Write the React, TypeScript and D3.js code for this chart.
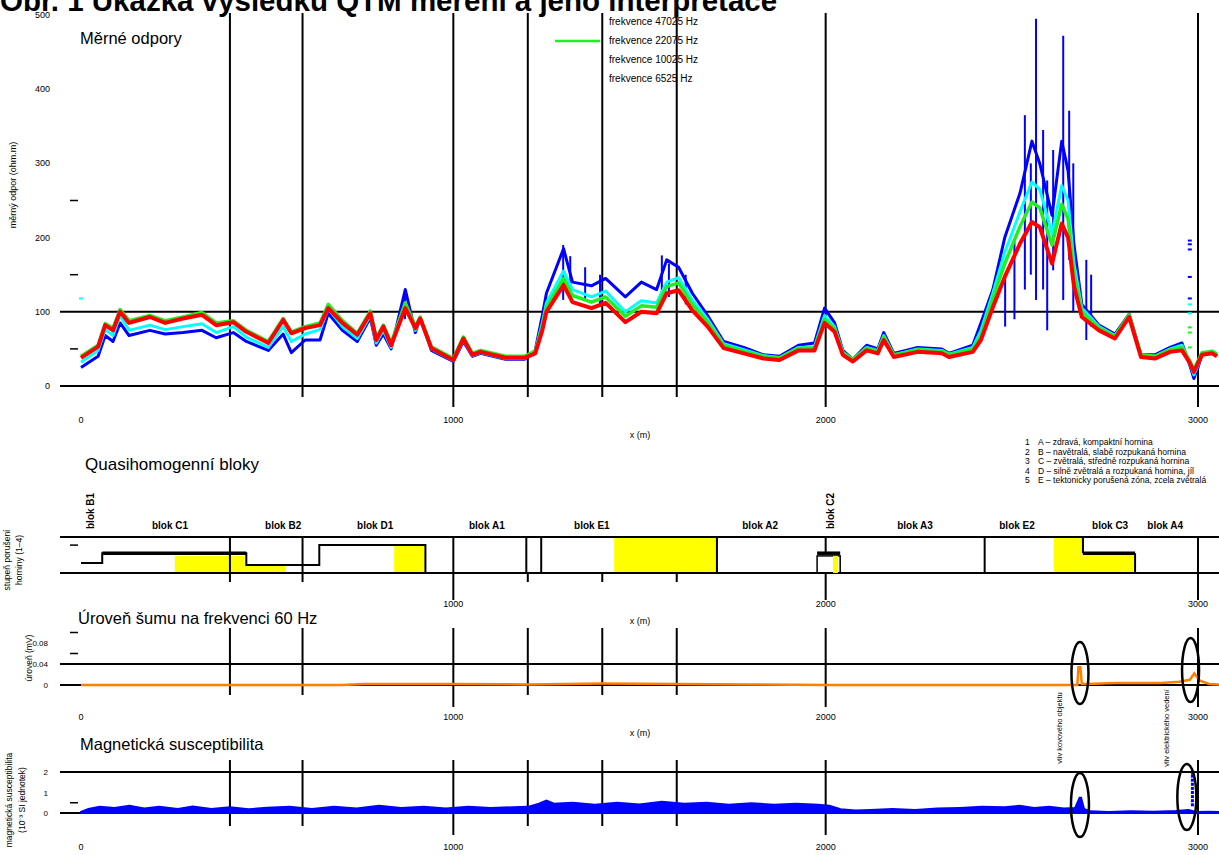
import React, { useRef, useEffect } from "react";
import * as d3 from "d3";

const title = "Obr. 1 Ukázka výsledku QTM měření a jeho interpretace";

// měrné odpory – staničení (m) a hodnoty (ohm.m) pro čtyři frekvence
const distance = [0, 46, 65, 86, 105, 129, 185, 226, 274, 325, 363, 409, 444, 503, 543, 565, 602, 642, 664, 702, 742, 777, 793, 812, 833, 871, 898, 911, 941, 1000, 1027, 1051, 1073, 1140, 1191, 1220, 1239, 1250, 1296, 1320, 1371, 1409, 1462, 1505, 1546, 1573, 1605, 1642, 1683, 1726, 1780, 1833, 1876, 1927, 1970, 1997, 2024, 2046, 2073, 2110, 2140, 2156, 2183, 2247, 2312, 2331, 2395, 2417, 2449, 2481, 2522, 2554, 2575, 2608, 2634, 2651, 2667, 2688, 2734, 2777, 2815, 2847, 2884, 2925, 2957, 2978, 2989, 3000, 3011, 3038, 3051];
const rhoRed = [38, 53, 82, 75, 100, 85, 93, 85, 91, 96, 82, 86, 73, 58, 89, 71, 78, 82, 105, 85, 69, 98, 62, 80, 55, 105, 78, 91, 51, 35, 64, 42, 46, 38, 38, 44, 75, 100, 136, 113, 105, 112, 86, 100, 98, 125, 129, 102, 80, 51, 44, 37, 35, 48, 48, 85, 73, 42, 33, 48, 44, 62, 39, 46, 44, 39, 46, 62, 106, 147, 192, 221, 214, 165, 219, 200, 134, 93, 75, 64, 93, 39, 37, 46, 48, 31, 19, 31, 42, 44, 40];
const rhoGreen = [40, 55, 84, 78, 103, 88, 95, 88, 93, 99, 85, 88, 75, 60, 91, 73, 80, 85, 110, 88, 71, 101, 65, 82, 58, 112, 80, 93, 53, 37, 66, 44, 48, 40, 40, 47, 80, 106, 145, 122, 113, 120, 94, 108, 106, 134, 139, 110, 86, 55, 47, 40, 38, 51, 51, 90, 77, 45, 36, 51, 47, 66, 42, 49, 47, 42, 50, 68, 118, 165, 215, 248, 240, 190, 245, 225, 150, 100, 78, 67, 96, 42, 40, 49, 52, 34, 22, 34, 45, 47, 43];
const rhoCyan = [32, 48, 76, 68, 95, 75, 82, 76, 80, 84, 72, 80, 66, 52, 80, 60, 70, 76, 104, 80, 64, 95, 58, 75, 52, 110, 75, 90, 50, 34, 62, 41, 45, 37, 37, 46, 85, 112, 155, 130, 120, 128, 100, 115, 112, 140, 146, 116, 90, 57, 49, 41, 38, 52, 53, 95, 80, 46, 35, 52, 48, 68, 42, 50, 48, 43, 52, 75, 125, 180, 235, 275, 265, 205, 270, 250, 165, 105, 80, 68, 95, 41, 40, 50, 55, 30, 15, 28, 44, 46, 42];
const rhoBlue = [25, 40, 68, 60, 85, 68, 75, 70, 72, 75, 65, 72, 60, 48, 70, 45, 62, 62, 98, 75, 60, 92, 55, 70, 50, 130, 72, 92, 48, 33, 60, 40, 44, 36, 36, 48, 95, 125, 185, 140, 135, 145, 120, 140, 130, 170, 160, 125, 95, 60, 52, 42, 40, 55, 58, 105, 85, 48, 36, 55, 50, 72, 44, 52, 50, 44, 55, 85, 130, 200, 260, 330, 300, 230, 330, 290, 190, 110, 82, 70, 97, 42, 42, 52, 58, 28, 10, 25, 43, 45, 41];

// šumové špičky modré řady: staničení, min, max
const spikeD = [870, 1295, 1314, 1354, 1394, 1560, 1579, 1624, 2482, 2507, 2535, 2551, 2565, 2584, 2595, 2611, 2638, 2654, 2665, 2700, 2713];
const spikeLo = [90, 116, 120, 115, 110, 120, 120, 110, 80, 90, 130, 150, 116, 130, 75, 156, 116, 170, 100, 62, 80];
const spikeHi = [130, 190, 175, 160, 150, 176, 165, 150, 145, 196, 365, 300, 495, 345, 277, 318, 472, 371, 300, 170, 150];

// osamocené body
const outlierD = [0, 2978, 2978, 2978, 2978, 2978, 2978, 2978, 2978, 2978, 2978];
const outlierV = [118, 196, 191, 184, 147, 118, 110, 98, 79, 72, 52];
const outlierS = ["cyan", "blue", "blue", "blue", "blue", "blue", "cyan", "cyan", "green", "green", "green"];

const legendLabels = ["frekvence 47025 Hz", "frekvence 22075 Hz", "frekvence 10025 Hz", "frekvence 6525 Hz"];
const legendColors = ["none", "#22ee22", "none", "none"];

const rhoTicks = [0, 100, 200, 300, 400, 500];
const rhoMinor = [50, 150, 250];
const xTicks = [0, 1000, 2000, 3000];
const gridX = [400, 595, 1000, 1200, 1400, 1600, 2000, 3000];

// quasihomogenní bloky
const blockNames = ["blok B1", "blok C1", "blok B2", "blok D1", "blok A1", "blok  E1", "blok A2", "blok C2", "blok A3", "blok E2", "blok C3", "blok A4"];
const blockLabelAt = [24, 239, 543, 790, 1090, 1372, 1824, 2012, 2240, 2514, 2764, 2912];
const blockRotated = [true, false, false, false, false, false, false, true, false, false, false, false];
const blockBounds = [400, 595, 1000, 1196, 1236, 1708, 2427, 3000];
const stepD = [0, 57, 444, 640, 925];
const stepLevel = [1.1, 2.2, 0.9, 3.1, 0];
const yellowStart = [252, 440, 841, 1432, 2020, 2613, 2691];
const yellowEnd = [440, 548, 921, 1708, 2033, 2691, 2831];
const yellowTop = [1.9, 0.9, 3.1, 4, 1.9, 4, 2.2];
const blockLegend = [
  "A – zdravá, kompaktní hornina",
  "B – navětralá, slabě rozpukaná hornina",
  "C – zvětralá, středně rozpukaná hornina",
  "D – silně zvětralá a rozpukaná hornina, jíl",
  "E – tektonicky porušená zóna, zcela zvětralá",
];

// úroveň šumu na 60 Hz
const noiseD = [0, 700, 760, 1000, 1200, 1400, 1600, 1800, 2000, 2600, 2676, 2679, 2684, 2688, 2700, 2780, 2900, 2950, 2978, 2990, 3005, 3030, 3060];
const noiseV = [0, 0, 0.002, 0.002, 0.001, 0.003, 0.002, 0.001, 0, 0, 0, 0.034, 0.034, 0.002, 0.002, 0.004, 0.004, 0.006, 0.01, 0.022, 0.008, 0.002, 0.001];

// magnetická susceptibilita
const magD = [0, 20, 50, 90, 130, 170, 210, 260, 300, 350, 400, 450, 500, 560, 620, 680, 740, 800, 860, 920, 980, 1040, 1100, 1160, 1200, 1230, 1250, 1270, 1320, 1380, 1440, 1500, 1560, 1620, 1680, 1740, 1800, 1860, 1920, 1980, 2010, 2040, 2080, 2120, 2180, 2240, 2300, 2360, 2420, 2480, 2520, 2560, 2600, 2640, 2670, 2682, 2686, 2694, 2710, 2760, 2820, 2880, 2940, 2975, 2995, 3030, 3060];
const magV = [0.05, 0.2, 0.3, 0.25, 0.35, 0.22, 0.3, 0.2, 0.32, 0.2, 0.28, 0.18, 0.26, 0.3, 0.2, 0.3, 0.22, 0.35, 0.25, 0.3, 0.22, 0.3, 0.25, 0.28, 0.3, 0.45, 0.6, 0.45, 0.5, 0.4, 0.5, 0.42, 0.55, 0.45, 0.5, 0.4, 0.48, 0.4, 0.45, 0.4, 0.35, 0.18, 0.12, 0.15, 0.2, 0.15, 0.22, 0.25, 0.3, 0.28, 0.35, 0.25, 0.3, 0.22, 0.25, 0.75, 0.75, 0.2, 0.08, 0.05, 0.08, 0.06, 0.1, 0.15, 0.05, 0.06, 0.05];
const magDotsD = [2985, 2985, 2985, 2985, 2985, 2985, 2985, 2985, 2985];
const magDotsV = [1.95, 1.8, 1.6, 1.4, 1.2, 1.0, 0.8, 0.6, 0.4];

const anomalyLabels = ["vliv kovového objektu", "vliv elektrického vedení"];

const FONT = "'Liberation Sans', Arial, sans-serif";

export default function App() {
  const svgRef = useRef<SVGSVGElement>(null);

  useEffect(() => {
    const width = 1219;
    const height = 855;
    d3.select(svgRef.current).selectAll("*").remove();
    const svg = d3.select(svgRef.current).attr("width", width).attr("height", height).style("font-family", FONT);
    svg.append("rect").attr("width", width).attr("height", height).attr("fill", "#fff");

    const x = d3.scaleLinear().domain([0, 3000]).range([81, 1198]);
    const xLeft = 60;
    const xRight = width;

    const hLine = (y: number) =>
      svg.append("line").attr("x1", xLeft).attr("x2", xRight).attr("y1", y).attr("y2", y)
        .attr("stroke", "#000").attr("stroke-width", 2);
    const vLine = (xx: number, y1: number, y2: number, w = 2) =>
      svg.append("line").attr("x1", xx).attr("x2", xx).attr("y1", y1).attr("y2", y2)
        .attr("stroke", "#000").attr("stroke-width", w);
    const text = (s: string, xx: number, yy: number, size: number, anchor = "start", weight = "normal") =>
      svg.append("text").attr("x", xx).attr("y", yy).attr("font-size", size).attr("text-anchor", anchor)
        .attr("font-weight", weight).attr("fill", "#000").text(s);
    const vText = (s: string, xx: number, yy: number, size: number, anchor = "middle", weight = "normal") =>
      svg.append("text").attr("transform", `translate(${xx},${yy}) rotate(-90)`).attr("font-size", size)
        .attr("text-anchor", anchor).attr("font-weight", weight).attr("fill", "#000").text(s);
    const xAxisLabels = (yy: number, yTitle: number | null, showZero: boolean) => {
      xTicks.forEach((t) => {
        if (t === 0 && !showZero) return;
        text(String(t), x(t), yy, 9, "middle");
      });
      if (yTitle !== null) text("x (m)", 640, yTitle, 9, "middle");
    };
    const gridLines = (top: number, bottom: number, bottomLong: number) => {
      gridX.forEach((g) => vLine(x(g), top, g % 1000 === 0 ? bottomLong : bottom));
    };

    // ---------- panel 1: měrné odpory ----------
    const yRho = d3.scaleLinear().domain([0, 500]).range([386, 15]);
    rhoTicks.forEach((t) => text(String(t), 50, yRho(t) + 3, 9, "end"));
    rhoMinor.forEach((t) =>
      svg.append("line").attr("x1", 70).attr("x2", 78).attr("y1", yRho(t)).attr("y2", yRho(t))
        .attr("stroke", "#000").attr("stroke-width", 1.5));
    vText("měrný odpor (ohm.m)", 16, 185, 9);
    text("Měrné odpory", 80, 44, 16.5);
    gridLines(13, 397, 407);
    hLine(yRho(0));
    hLine(yRho(100));

    const lineRho = (vals: number[]) =>
      d3.line<number>().x((_, i) => x(distance[i])).y((v) => yRho(v))(vals);

    spikeD.forEach((d, i) =>
      svg.append("line").attr("x1", x(d)).attr("x2", x(d)).attr("y1", yRho(spikeLo[i])).attr("y2", yRho(spikeHi[i]))
        .attr("stroke", "#0000ff").attr("stroke-width", 2));
    const series = [
      { vals: rhoBlue, color: "#0000ff", w: 3 },
      { vals: rhoCyan, color: "#00ffff", w: 3 },
      { vals: rhoGreen, color: "#22ee22", w: 3.5 },
      { vals: rhoRed, color: "#ff0000", w: 4 },
    ];
    series.forEach((s) =>
      svg.append("path").attr("d", lineRho(s.vals)).attr("fill", "none").attr("stroke", s.color)
        .attr("stroke-width", s.w).attr("stroke-linejoin", "round"));
    const colorOf: Record<string, string> = { blue: "#0000ff", cyan: "#00ffff", green: "#22ee22", red: "#ff0000" };
    outlierD.forEach((d, i) =>
      svg.append("line").attr("x1", x(d) - 2).attr("x2", x(d) + 2).attr("y1", yRho(outlierV[i])).attr("y2", yRho(outlierV[i]))
        .attr("stroke", colorOf[outlierS[i]]).attr("stroke-width", 2));

    // legend
    legendLabels.forEach((l, i) => {
      const ly = 25 + i * 19;
      if (legendColors[i] !== "none")
        svg.append("line").attr("x1", 555).attr("x2", 600).attr("y1", ly - 3).attr("y2", ly - 3)
          .attr("stroke", legendColors[i]).attr("stroke-width", 2.5);
      text(l, 609, ly, 10);
    });
    xAxisLabels(423, 438, true);

    // ---------- panel 2: quasihomogenní bloky ----------
    const yBlk = d3.scaleLinear().domain([0, 4]).range([573, 537]);
    text("Quasihomogenní bloky", 85, 470, 17);
    vText("stupeň porušení", 10, 560, 8.5);
    vText("horniny (1–4)", 22, 560, 8.5);
    svg.append("line").attr("x1", 70).attr("x2", 78).attr("y1", yBlk(3.1)).attr("y2", yBlk(3.1))
      .attr("stroke", "#000").attr("stroke-width", 1.5);
    blockLegend.forEach((l, i) => {
      text(String(i + 1), 1025, 445 + i * 9.5, 8.5);
      text(l, 1038, 445 + i * 9.5, 8.5);
    });

    yellowStart.forEach((s, i) =>
      svg.append("rect").attr("x", x(s)).attr("width", x(yellowEnd[i]) - x(s))
        .attr("y", yBlk(yellowTop[i])).attr("height", yBlk(0) - yBlk(yellowTop[i])).attr("fill", "#ffff00"));

    hLine(yBlk(4));
    hLine(yBlk(0));
    gridX.forEach((g) => vLine(x(g), yBlk(0), g % 1000 === 0 ? 600 : 582));
    blockBounds.forEach((b) => vLine(x(b), yBlk(4), yBlk(0)));

    const step = d3.line<number>().x((_, i) => x(stepD[i])).y((v) => yBlk(v)).curve(d3.curveStepAfter);
    svg.append("path").attr("d", step(stepLevel)).attr("fill", "none").attr("stroke", "#000").attr("stroke-width", 2);
    // zvýrazněné úseky
    const thick = (d1: number, d2: number, v: number) =>
      svg.append("line").attr("x1", x(d1)).attr("x2", x(d2)).attr("y1", yBlk(v)).attr("y2", yBlk(v))
        .attr("stroke", "#000").attr("stroke-width", 3.5);
    thick(57, 444, 2.2);
    // blok C2
    svg.append("rect").attr("x", x(1977)).attr("width", x(2039) - x(1977)).attr("y", yBlk(1.9))
      .attr("height", yBlk(0) - yBlk(1.9)).attr("fill", "none").attr("stroke", "#000").attr("stroke-width", 1.5);
    svg.append("rect").attr("x", x(2020)).attr("width", x(2033) - x(2020)).attr("y", yBlk(1.9))
      .attr("height", yBlk(0) - yBlk(1.9)).attr("fill", "#ffff00");
    thick(1977, 2039, 2.2);
    vLine(x(2000), yBlk(4), yBlk(2.2));
    // blok C3
    vLine(x(2691), yBlk(4), yBlk(2.2));
    thick(2691, 2831, 2.2);
    vLine(x(2831), yBlk(2.2), yBlk(0));

    blockNames.forEach((n, i) => {
      if (blockRotated[i]) vText(n, x(blockLabelAt[i]) + 4, 529, 10, "start", "bold");
      else text(n, x(blockLabelAt[i]), 529, 10, "middle", "bold");
    });
    xAxisLabels(607, 624, false);

    // ---------- panel 3: úroveň šumu ----------
    const yNoise = d3.scaleLinear().domain([0, 0.1]).range([685, 632.5]);
    text("Úroveň šumu na frekvenci 60 Hz", 78, 624, 16.5);
    vText("úroveň (mV)", 32, 658, 8.5);
    [0, 0.04, 0.08].forEach((t) => text(t === 0 ? "0" : String(t), 48, yNoise(t) + 3, 8, "end"));
    [0.06, 0.1].forEach((t) =>
      svg.append("line").attr("x1", 70).attr("x2", 78).attr("y1", yNoise(t)).attr("y2", yNoise(t))
        .attr("stroke", "#000").attr("stroke-width", 1.5));
    gridLines(628, 695, 707);
    hLine(yNoise(0.04));
    hLine(yNoise(0));
    const noiseLine = d3.line<number>().x((_, i) => x(noiseD[i])).y((v) => yNoise(v));
    svg.append("path").attr("d", noiseLine(noiseV)).attr("fill", "none").attr("stroke", "#ff7f00").attr("stroke-width", 2.5);
    xAxisLabels(720, 736, true);

    // ---------- panel 4: magnetická susceptibilita ----------
    const yMag = d3.scaleLinear().domain([0, 2]).range([813, 772]);
    text("Magnetická susceptibilita", 80, 750, 16.5);
    vText("magnetická susceptibilita", 12, 800, 8.5);
    vText("(10⁻³ SI jednotek)", 25, 800, 8.5);
    [0, 1, 2].forEach((t) => text(String(t), 48, yMag(t) + 3, 8, "end"));
    svg.append("line").attr("x1", 70).attr("x2", 78).attr("y1", yMag(0.5)).attr("y2", yMag(0.5))
      .attr("stroke", "#000").attr("stroke-width", 1.5);
    gridLines(760, 826, 835);
    hLine(yMag(2));
    hLine(yMag(0));
    const magArea = d3.area<number>().x((_, i) => x(magD[i])).y0(yMag(0)).y1((v) => yMag(v));
    svg.append("path").attr("d", magArea(magV)).attr("fill", "#0000ff").attr("stroke", "#0000ff").attr("stroke-width", 2);
    magDotsD.forEach((d, i) =>
      svg.append("rect").attr("x", x(d) - 1.5).attr("y", yMag(magDotsV[i]) - 1.5).attr("width", 3).attr("height", 3)
        .attr("fill", "#0000ff"));
    xAxisLabels(850, null, true);

    // ---------- anomálie ----------
    const ellipse = (cx: number, cy: number, rx: number, ry: number) =>
      svg.append("ellipse").attr("cx", cx).attr("cy", cy).attr("rx", rx).attr("ry", ry)
        .attr("fill", "none").attr("stroke", "#000").attr("stroke-width", 2.5);
    ellipse(x(2683), 673, 8.5, 31);
    ellipse(x(2980), 670, 8.5, 32);
    ellipse(x(2683), 805, 9, 32);
    ellipse(x(2970), 797, 9.5, 33);
    vText(anomalyLabels[0], x(2683) - 18, 728, 7.5);
    vText(anomalyLabels[1], x(2960) - 14, 728, 7.5);

    // title (zčásti oříznutý horním okrajem, jako ve zdroji)
    text(title, 0, 11, 29.5, "start", "bold");
  }, []);

  return (
    <div style={{ position: "absolute", left: 0, top: 0 }}>
      <svg ref={svgRef}></svg>
    </div>
  );
}
